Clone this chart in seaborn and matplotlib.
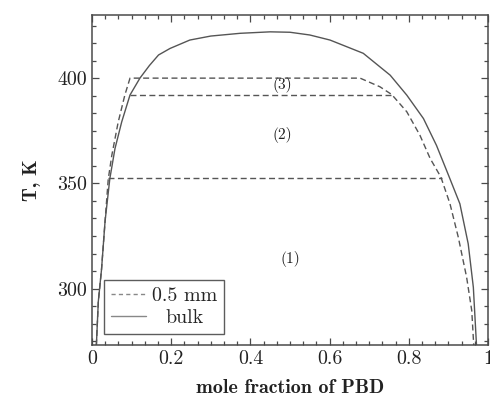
import numpy as np
import pandas as pd
import matplotlib
matplotlib.use("Agg")
import matplotlib.pyplot as plt
import seaborn as sns
from matplotlib.ticker import MultipleLocator, FixedLocator
from matplotlib.transforms import Affine2D
from matplotlib.lines import Line2D

# ---- data ----
bulk_x = [0.011, 0.016, 0.024, 0.033, 0.045, 0.058, 0.075, 0.096, 0.121, 0.145,
          0.168, 0.197, 0.247, 0.300, 0.374, 0.450, 0.500, 0.550, 0.601, 0.685,
          0.753, 0.795, 0.837, 0.870, 0.900, 0.929, 0.950, 0.963, 0.971]
bulk_T = [273, 294, 309, 332, 352.2, 366.5, 379.2, 392, 400, 406,
          411, 414.1, 418.1, 420.0, 421.3, 422.0, 421.8, 420.5, 418.1, 411.8,
          401.4, 391.9, 380.8, 368, 354, 340.3, 321.3, 300.6, 273]

film_x = [0.011, 0.016, 0.024, 0.033, 0.041, 0.050, 0.066, 0.083, 0.096, 0.677,
          0.727, 0.757, 0.795, 0.828, 0.854, 0.881, 0.904, 0.925, 0.946, 0.959,
          0.964]
film_T = [273, 294, 309, 332, 352, 363.3, 379, 392, 400, 400,
          395.9, 392.2, 384, 372.9, 361.8, 353, 340.3, 324.4, 305.4, 289.5,
          273]

tie_T = [392.1, 352.6]
tie_x0 = [0.096, 0.041]
tie_x1 = [0.757, 0.883]

region_labels = ["(3)", "(2)", "(1)"]
region_x = [0.48, 0.48, 0.50]
region_T = [396.7, 372.9, 314.0]

legend_labels = ["0.5 mm", "bulk"]
x_ticks = [0, 0.2, 0.4, 0.6, 0.8, 1]
x_ticklabels = ["0", "0.2", "0.4", "0.6", "0.8", "1"]
y_ticks = [300, 350, 400]

# ---- styling ----
sns.set_theme(style="ticks")
plt.rcParams["font.family"] = ["cmr10", "DejaVu Serif"]
plt.rcParams["axes.formatter.use_mathtext"] = True
plt.rcParams["axes.unicode_minus"] = False

line_col = "#555555"
frame_col = "#4a4a4a"
dash = (4.3, 2.5)

fig = plt.figure(figsize=(4.9, 3.98), dpi=100)
ax = fig.add_axes([92 / 490, 1 - 345 / 398, 396 / 490, 330 / 398])

bulk_df = pd.DataFrame({"x": bulk_x, "T": bulk_T})
film_df = pd.DataFrame({"x": film_x, "T": film_T})

sns.lineplot(data=film_df, x="x", y="T", sort=False, estimator=None, ax=ax,
             color=line_col, lw=1.0, dashes=False, linestyle=(0, dash))
sns.lineplot(data=bulk_df, x="x", y="T", sort=False, estimator=None, ax=ax,
             color=line_col, lw=1.0)
for T, a, b in zip(tie_T, tie_x0, tie_x1):
    ax.plot([a, b], [T, T], color=line_col, lw=1.0, linestyle=(0, dash))

for lab, x, T in zip(region_labels, region_x, region_T):
    ax.text(x, T, lab, ha="center", va="center", fontsize=11, color="#222222")

ax.set_xlim(0, 1)
ax.set_ylim(273.2, 430)
ax.xaxis.set_major_locator(FixedLocator(x_ticks))
ax.set_xticklabels(x_ticklabels)
ax.xaxis.set_minor_locator(MultipleLocator(1 / 30))
ax.yaxis.set_major_locator(FixedLocator(y_ticks))
ax.set_yticklabels([str(v) for v in y_ticks])
ax.yaxis.set_minor_locator(MultipleLocator(50 / 6))

ax.tick_params(which="both", direction="in", top=True, right=True,
               colors=frame_col, labelcolor="#222222", labelsize=14.4, width=0.9)
ax.tick_params(which="major", length=5)
ax.tick_params(which="minor", length=3)
for s in ax.spines.values():
    s.set_color(frame_col)
    s.set_linewidth(1.1)

ax.set_xlabel("mole fraction of PBD", fontsize=14.4, family="cmb10",
              color="#222222", labelpad=8)
ax.set_ylabel("T, K", fontsize=14.4, family="cmb10", color="#222222",
              labelpad=12)

handles = [Line2D([], [], color="#888888", lw=1.0, linestyle=(0, (3.0, 2.3))),
           Line2D([], [], color="#888888", lw=1.0)]
leg = ax.legend(handles, legend_labels, loc="lower left",
                bbox_to_anchor=(0.03, 0.033), borderaxespad=0,
                fontsize=14.4, frameon=True, fancybox=False,
                handlelength=1.75, handletextpad=0.3, labelspacing=0.2,
                borderpad=0.35)
leg.get_frame().set_edgecolor("#333333")
leg.get_frame().set_linewidth(1.0)
txts = leg.get_texts()
fig.canvas.draw()
r = fig.canvas.get_renderer()
w0 = txts[0].get_window_extent(r).width
w1 = txts[1].get_window_extent(r).width
txts[1].set_transform(txts[1].get_transform() + Affine2D().translate((w0 - w1) / 2, 0))

fig.savefig("out.png", dpi=100)
